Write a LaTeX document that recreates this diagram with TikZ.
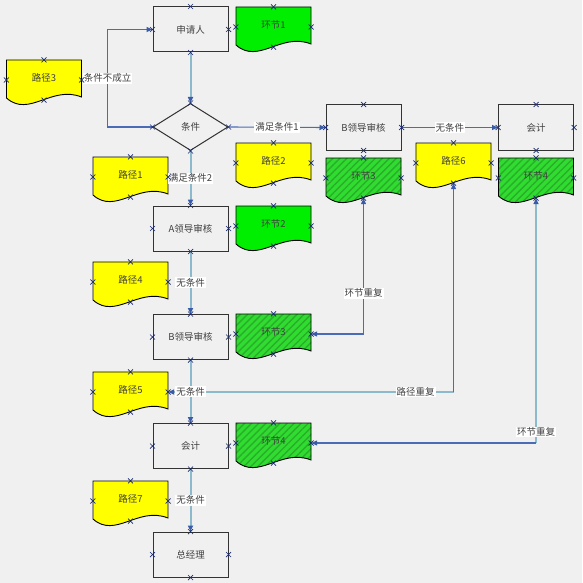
\documentclass[tikz,border=0pt]{standalone}
\usepackage{fontspec}
\setmainfont{Noto Sans CJK SC}
\usetikzlibrary{arrows.meta,shapes.geometric,patterns.meta,calc}
\definecolor{bg}{HTML}{F0F0F0}
\definecolor{lnlight}{HTML}{8CB9CB}
\definecolor{lndark}{HTML}{4A6CB6}
\definecolor{tipc}{HTML}{3A5BA8}
\definecolor{grn}{HTML}{00EE00}
\definecolor{grnh}{HTML}{30DC30}
\definecolor{grnl}{HTML}{2AAE2A}
\definecolor{ylw}{HTML}{FFFF00}
\definecolor{txt}{HTML}{404040}
\definecolor{cpc}{HTML}{1A2A70}
\tikzset{
  every node/.style={font=\fontsize{9.5}{11}\selectfont, text=txt},
  box/.style={draw=black!80, line width=1pt, minimum width=75pt, minimum height=45pt, inner sep=0pt},
  cond/.style={diamond, draw=black!80, line width=1pt, minimum width=75pt, minimum height=47pt, inner sep=0pt, shape aspect=1.6},
  docnode/.style={minimum width=75pt, minimum height=40pt, inner sep=0pt, text height=8pt, text depth=5.5pt},
  docy/.style={fill=ylw, draw=black, line width=0.9pt},
  docg/.style={fill=grn, draw=black, line width=0.9pt},
  doch/.style={preaction={fill=grnh}, pattern={Lines[angle=45,distance=5pt,line width=1.4pt]}, pattern color=grnl, draw=black, line width=0.9pt},
  lt/.style={draw=lnlight, line width=2pt},
  dk/.style={draw=lndark, line width=1.1pt},
  tip/.style={-{Triangle[length=6pt,width=5pt,color=tipc]}},
  tips/.style={{Triangle[length=6pt,width=5pt,color=tipc]}-{Triangle[length=6pt,width=5pt,color=tipc]}},
  lbl/.style={fill=white, inner sep=1pt, text=black!75},
  cpmark/.style={draw=cpc, line width=0.7pt},
  cpx/.pic={\draw[cpmark] (-2.5,-2.5)--(2.5,2.5) (-2.5,2.5)--(2.5,-2.5);}
}
\newcommand\docshape[5]{%
  \path[#4] (#2-37.5,#3) -- (#2+37.5,#3) -- (#2+37.5,#3+37) .. controls (#2+7.5,#3+25) and (#2-15,#3+58) .. (#2-37.5,#3+38) -- cycle;
  \node[docnode] (#1) at (#2,#3+20) {#5};
}
\begin{document}
\begin{tikzpicture}[x=1pt,y=-1pt]
\fill[bg] (0,0) rectangle (582,583);
\useasboundingbox (0,0) rectangle (582,583);

% process boxes
\node[box] (sq) at (190.5,29.5) {申请人};
\node[cond] (tj) at (190.5,127) {条件};
\node[box] (ca) at (190.5,228.5) {A领导审核};
\node[box] (cb) at (190.5,337) {B领导审核};
\node[box] (kj) at (190.5,446) {会计};
\node[box] (zj) at (190.5,554.5) {总经理};
\node[box] (cb2) at (363.5,127.5) {B领导审核};
\node[box] (kj2) at (536,127.5) {会计};

% documents
\docshape{h1}{273.5}{7}{docg}{环节1}
\docshape{p3}{44}{60}{docy}{路径3}
\docshape{p2}{273.5}{143}{docy}{路径2}
\docshape{p1}{130.5}{157}{docy}{路径1}
\docshape{h2}{273.5}{206}{docg}{环节2}
\docshape{p4}{130.5}{262}{docy}{路径4}
\docshape{h3a}{273.5}{314}{doch}{环节3}
\docshape{p5}{130.5}{372}{docy}{路径5}
\docshape{h4a}{273.5}{423}{doch}{环节4}
\docshape{p7}{130.5}{481}{docy}{路径7}
\docshape{h3b}{363.5}{158}{doch}{环节3}
\docshape{p6}{453.5}{143}{docy}{路径6}
\docshape{h4b}{536}{158}{doch}{环节4}

% connectors
\draw[lt,tip] (sq.south) -- (tj.north);
\draw[dk,tip] (tj.west) -- ++(-45,0) |- node[lbl,pos=0.25]{条件不成立} (sq.west);
\draw[dk,tip] (tj.east) -- node[lbl]{满足条件1} (cb2.west);
\draw[lt,tip] (tj.south) -- node[lbl]{满足条件2} (ca.north);
\draw[lt,tip] (ca.south) -- node[lbl]{无条件} (cb.north);
\draw[dk,tip] (cb2.east) -- node[lbl]{无条件} (kj2.west);

\coordinate (r6) at (p6.south |- p5.east);
\draw[lt,tip] (r6) -- node[lbl,pos=0.133]{路径重复} (p5.east);
\draw[dk,tip] (r6) -- (p6.south);

\draw[lt,tip] (cb.south) -- node[lbl]{无条件} (kj.north);
\draw[lt,tip] (kj.south) -- node[lbl]{无条件} (zj.north);

\draw[dk,tips] (h3b.south) |- node[lbl,pos=0.35]{环节重复} (h3a.east);

\coordinate (r4) at (h4b.south |- h4a.east);
\draw[lt,tip] (r4) -- node[lbl,pos=0.045]{环节重复} (h4b.south);
\draw[dk,tip] (r4) -- (h4a.east);

% connection points
\foreach \n in {sq,tj,ca,cb,kj,zj,cb2,kj2,h1,h2,h3a,h4a,h3b,h4b,p1,p2,p3,p4,p5,p6,p7}
  \foreach \a in {north,south,east,west}
    \pic at (\n.\a) {cpx};
\end{tikzpicture}
\end{document}
